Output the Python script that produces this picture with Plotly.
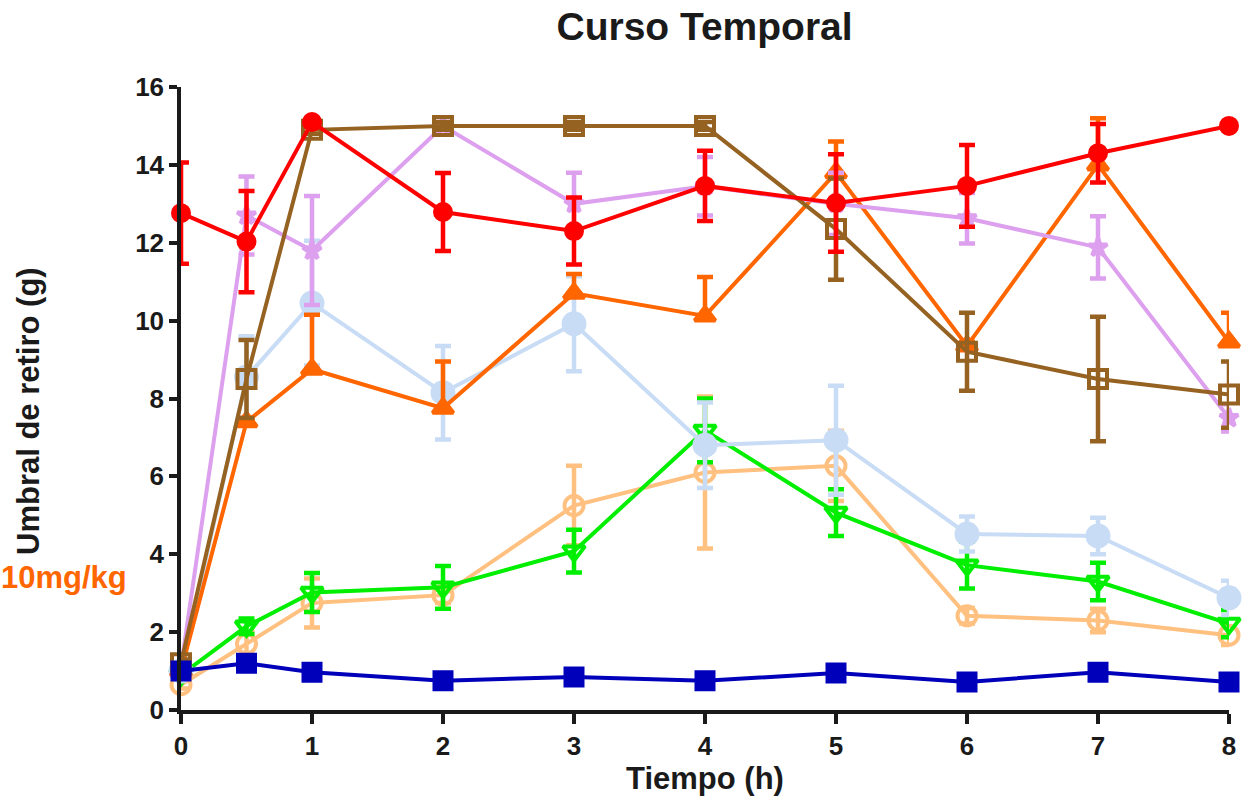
import plotly.graph_objects as go

t = [0, 0.5, 1, 2, 3, 4, 5, 6, 7, 8]

peach_y = [0.65, 1.7, 2.75, 2.95, 5.25, 6.1, 6.27, 2.42, 2.3, 1.92]
peach_e = [0.1, 0.3, 0.63, 0.2, 1.02, 1.95, 0.9, 0.2, 0.3, 0.25]

green_y = [0.9, 2.15, 3.02, 3.15, 4.08, 7.18, 5.07, 3.72, 3.3, 2.22]
green_e = [0.1, 0.2, 0.5, 0.55, 0.55, 0.82, 0.6, 0.6, 0.48, 0.35]

lblue_y = [1.0, 8.55, 10.45, 8.15, 9.92, 6.8, 6.93, 4.52, 4.47, 2.88]
lblue_e = [0.1, 1.05, 1.6, 1.2, 1.22, 1.1, 1.4, 0.45, 0.47, 0.44]

orange_y = [1.0, 7.4, 8.75, 7.75, 10.7, 10.12, 13.8, 9.35, 14.0, 9.45]
orange_e_up = [0.1, 0.1, 1.4, 1.2, 0.5, 1.0, 0.8, 0.1, 1.2, 0.75]
orange_e_down = [0, 0, 0, 0, 0, 0, 0, 0, 0, 0]

lav_y = [1.1, 12.7, 11.8, 15.0, 13.0, 13.45, 13.0, 12.63, 11.88, 7.5]
lav_e = [0.1, 1.0, 1.4, 0.1, 0.8, 0.75, 0.8, 0.65, 0.8, 0.35]

brown_y = [1.2, 8.5, 14.9, 15.0, 15.0, 15.0, 12.35, 9.2, 8.5, 8.1]
brown_e = [0.1, 1.0, 0.1, 0.1, 0.1, 0.1, 1.3, 1.0, 1.6, 0.85]

blue_y = [1.0, 1.2, 0.97, 0.75, 0.85, 0.75, 0.95, 0.72, 0.97, 0.72]
blue_e = [0.1, 0.1, 0.08, 0.05, 0.06, 0.05, 0.1, 0.05, 0.1, 0.05]

red_y = [12.76, 12.03, 15.1, 12.79, 12.3, 13.46, 13.02, 13.46, 14.3, 15.0]
red_e = [1.3, 1.3, 0.1, 1.0, 0.86, 0.9, 1.25, 1.05, 0.75, 0.05]

series = [
    (peach_y, peach_e, peach_e, "#FFC080", "circle-open", 19),
    (green_y, green_e, green_e, "#00EE00", "triangle-down-open", 19),
    (lblue_y, lblue_e, lblue_e, "#C8DCF5", "circle", 21),
    (orange_y, orange_e_up, orange_e_down, "#FF6600", "triangle-up", 18),
    (lav_y, lav_e, lav_e, "#DDA0EE", "star", 14),
    (brown_y, brown_e, brown_e, "#956222", "square-open", 18),
    (blue_y, blue_e, blue_e, "#0000BB", "square", 17),
    (red_y, red_e, red_e, "#FF0000", "circle", 16),
]

fig = go.Figure()
for y, eu, ed, c, sym, sz in series:
    fig.add_trace(go.Scatter(
        x=t, y=y, mode="lines+markers",
        line=dict(color=c, width=4),
        marker=dict(color=c, symbol=sym, size=sz, line=dict(color=c, width=4)),
        error_y=dict(type="data", array=eu, arrayminus=ed, symmetric=False, visible=True,
                     color=c, thickness=4.5, width=8),
        cliponaxis=False, showlegend=False,
    ))

fig.update_layout(
    width=1251, height=805,
    paper_bgcolor="white", plot_bgcolor="white",
    margin=dict(l=181, r=22, t=87, b=95),
    font=dict(family="Liberation Sans, Arial, sans-serif", color="#1a1a1a"),
    title=dict(text="Curso Temporal", x=0.5632, xanchor="center", y=0.967, yanchor="middle",
               font=dict(size=39, weight="bold", color="#1a1a1a")),
    xaxis=dict(range=[0, 8], tickvals=[0, 1, 2, 3, 4, 5, 6, 7, 8],
               showline=True, linewidth=3.5, linecolor="#1a1a1a",
               ticks="outside", ticklen=10, tickwidth=3.5, tickcolor="#1a1a1a",
               showgrid=False, zeroline=False,
               tickfont=dict(size=26, weight="bold"),
               title=dict(text="Tiempo (h)", font=dict(size=31, weight="bold"), standoff=8)),
    yaxis=dict(range=[0, 16], tickvals=[0, 2, 4, 6, 8, 10, 12, 14, 16],
               showline=True, linewidth=3.5, linecolor="#1a1a1a",
               ticks="outside", ticklen=8, tickwidth=3.5, tickcolor="#1a1a1a",
               showgrid=False, zeroline=False,
               tickfont=dict(size=26, weight="bold")),
)

fig.add_annotation(text="Umbral de retiro (g)", xref="paper", yref="paper", x=-0.145, y=0.48,
                   xanchor="center", yanchor="middle", textangle=-90, showarrow=False,
                   font=dict(size=31, weight="bold", color="#1a1a1a"))

fig.add_annotation(text="10mg/kg", xref="paper", yref="paper", x=-0.1735, y=0.213,
                   xanchor="left", yanchor="middle", showarrow=False,
                   font=dict(size=31, weight="bold", color="#FF6600"))

fig.write_html("out.html")
